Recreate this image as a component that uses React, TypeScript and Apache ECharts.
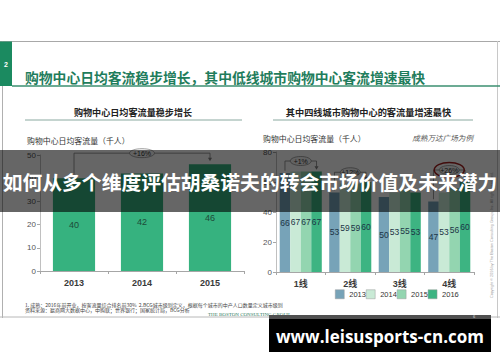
import React, { useEffect, useRef } from 'react';
import * as echarts from 'echarts';

const leftCategories = ['2013', '2014', '2015'];
const leftValues = [40, 42, 46];
const leftTicks = { min: 0, max: 50, interval: 10 };

const rightCategories = ['1线', '2线', '3线', '4线'];
const rightYears = ['2013', '2014', '2015', '2016'];
const right2013 = [66, 53, 50, 47];
const right2014 = [67, 59, 53, 53];
const right2015 = [67, 59, 55, 56];
const right2016 = [67, 60, 53, 60];
const rightTicks = { min: 0, max: 80, interval: 20 };

const leftGrowth = '+16%';
const rightGrowth = ['+1%', '+12%', '', '+26%'];

const rightColors = ['#77a3b8', '#c9ead6', '#93d5b0', '#3db482'];
const leftColor = '#36b27f';

export default function App() {
  const ref = useRef<HTMLDivElement>(null);
  useEffect(() => {
    const chart = echarts.init(ref.current!, null, { renderer: 'svg' });
    const numFont = '"Liberation Sans", Arial, "Noto Sans CJK SC", sans-serif';
    const cjk = '"Noto Sans CJK SC", sans-serif';
    const xAxisBase = {
      type: 'category',
      axisLine: { lineStyle: { color: '#a6a6a6', width: 1 } },
      axisTick: { show: true, length: 3, lineStyle: { color: '#a6a6a6' } },
      axisLabel: { color: '#3a3a3a', fontSize: 9, fontWeight: 'bold', fontFamily: numFont, margin: 7 },
    };
    const yAxisBase = {
      type: 'value',
      splitLine: { show: false },
      axisLine: { show: true, lineStyle: { color: '#c0c0c0', width: 1 } },
      axisTick: { show: true, length: 3, lineStyle: { color: '#a6a6a6' } },
      axisLabel: { color: '#555', fontSize: 8, fontFamily: numFont, margin: 4 },
    };
    const rightSeriesData = [right2013, right2014, right2015, right2016];
    chart.setOption({
      animation: false,
      backgroundColor: '#ffffff',
      grid: [
        { left: 40, right: 256, top: 155, bottom: 91 },
        { left: 276, right: 26, top: 152, bottom: 90 },
      ],
      xAxis: [
        { ...xAxisBase, gridIndex: 0, data: leftCategories },
        { ...xAxisBase, gridIndex: 1, data: rightCategories },
      ],
      yAxis: [
        { ...yAxisBase, gridIndex: 0, ...leftTicks },
        { ...yAxisBase, gridIndex: 1, ...rightTicks },
      ],
      legend: {
        data: rightYears,
        left: 335,
        top: 289.5,
        padding: 0,
        itemWidth: 9,
        itemHeight: 9,
        itemGap: 0,
        icon: 'rect',
        itemStyle: { borderColor: '#9a9a9a', borderWidth: 0.5 },
        textStyle: { fontSize: 7.5, color: '#333', fontFamily: numFont },
      },
      series: [
        {
          type: 'bar',
          name: 'left',
          xAxisIndex: 0,
          yAxisIndex: 0,
          data: leftValues,
          barWidth: '62%',
          itemStyle: { color: leftColor },
          label: { show: true, position: 'inside', color: '#1d4a38', fontSize: 9, fontFamily: numFont },
        },
        ...rightYears.map((y, i) => ({
          type: 'bar',
          name: y,
          xAxisIndex: 1,
          yAxisIndex: 1,
          data: rightSeriesData[i],
          barGap: '0%',
          barCategoryGap: '15%',
          itemStyle: { color: rightColors[i] },
          label: { show: true, position: 'inside', color: '#1c3446', fontSize: 8.5, fontFamily: numFont },
        })),
      ],
    });

    const px = (g: number, x: number, y: number) =>
      chart.convertToPixel({ gridIndex: g } as any, [x, y]) as number[];

    const gfx: any[] = [];
    const stroke = '#7f7f7f';
    const addBracket = (
      xa: number, ya: number, xb: number, yb: number, yh: number,
      text: string, rx: number, ry: number, red: boolean
    ) => {
      gfx.push({
        type: 'polyline', z: 50,
        shape: { points: [[xa, ya], [xa, yh], [xb, yh], [xb, yb - 3]] },
        style: { stroke, lineWidth: 0.8, fill: null },
      });
      gfx.push({
        type: 'polygon', z: 50,
        shape: { points: [[xb - 2, yb - 3.5], [xb + 2, yb - 3.5], [xb, yb]] },
        style: { fill: stroke },
      });
      const cx = (xa + xb) / 2;
      gfx.push({
        type: 'ellipse', z: 51,
        shape: { cx, cy: yh, rx, ry },
        style: { fill: '#f4f4f4', stroke, lineWidth: 0.7 },
      });
      if (red) {
        gfx.push({
          type: 'ellipse', z: 52,
          shape: { cx, cy: yh, rx: rx + 5, ry: ry + 3 },
          style: { fill: null, stroke: '#a3201f', lineWidth: 1.5 },
        });
      }
      gfx.push({
        type: 'text', z: 53, x: cx, y: yh,
        style: { text, fill: '#333', fontSize: 7, fontFamily: numFont, align: 'center', verticalAlign: 'middle' },
      });
    };

    // left bracket
    {
      const a = px(0, 0, 41.5);
      const b = px(0, 2, 47.3);
      const h = px(0, 0, 50.8);
      addBracket(a[0], a[1], b[0], b[1], h[1], leftGrowth, 12.5, 4.5, false);
    }
    // right brackets
    {
      const c0 = px(1, 0, 0)[0];
      const c1 = px(1, 1, 0)[0];
      const band = c1 - c0;
      const barW = (band * 0.85) / 4;
      const hv = [74, 66.5, 0, 68];
      rightGrowth.forEach((t, i) => {
        if (!t) return;
        const center = px(1, i, 0)[0];
        const xa = center - 1.5 * barW;
        const xb = center + 1.5 * barW;
        const ya = px(1, i, right2013[i] + 1.5)[1];
        const yb = px(1, i, right2016[i] + 1.2)[1];
        const yh = px(1, i, hv[i])[1];
        addBracket(xa, ya, xb, yb, yh, t, t.length > 3 ? 10 : 10.5, 4.5, i === 3);
      });
    }

    const txt = (x: number, y: number, text: string, o: any = {}) => ({
      type: 'text', z: o.z ?? 60, x, y, rotation: o.rotation ?? 0,
      style: {
        text, fill: o.fill ?? '#333', fontSize: o.size ?? 8, fontWeight: o.weight ?? 'normal',
        fontStyle: o.style ?? 'normal', fontFamily: o.family ?? cjk,
        align: o.align ?? 'left', verticalAlign: 'middle',
      },
    });
    const line = (x1: number, y1: number, x2: number, y2: number, color: string, w = 1) => ({
      type: 'line', z: 40, shape: { x1, y1, x2, y2 }, style: { stroke: color, lineWidth: w },
    });

    gfx.push(
      // slide frame
      line(0, 41.5, 500, 41.5, '#a8a8a8', 1),
      line(2.5, 41, 2.5, 318, '#b0b0b0', 1),
      line(497.5, 41, 497.5, 318, '#c8c8c8', 1),
      line(0, 317, 500, 317, '#b8b8b8', 1),
      { type: 'rect', z: 41, shape: { x: 0, y: 41.5, width: 12, height: 44.5 }, style: { fill: '#1b8a60' } },
      txt(6, 64, '2', { fill: '#fff', size: 7, weight: 'bold', align: 'center', family: numFont }),
      line(12, 86, 500, 86, '#3b8f70', 1.3),
      txt(25, 77, '购物中心日均客流稳步增长，其中低线城市购物中心客流增速最快', { fill: '#1f7d5c', size: 13.8, weight: 'bold' }),
      // left panel header
      txt(133, 111.5, '购物中心日均客流量稳步增长', { size: 9.1, weight: 'bold', fill: '#222', align: 'center' }),
      line(25, 120, 242, 120, '#8aa9a0', 1),
      txt(27, 140, '购物中心日均客流量（千人）', { size: 7.9, fill: '#333' }),
      // right panel header
      txt(368.5, 111.5, '其中四线城市购物中心的客流量增速最快', { size: 9.2, weight: 'bold', fill: '#222', align: 'center' }),
      line(273, 120, 473, 120, '#8aa9a0', 1),
      txt(263, 138, '购物中心日均客流量（千人）', { size: 7.9, fill: '#333' }),
      txt(473, 137.5, '成熟万达广场为例', { size: 7.6, fill: '#555', style: 'italic', align: 'right' }),
      // footnotes
      txt(25, 304, '1. 成熟：2016年前开业，按客流量综合排名前30%  2.BCG城市级别定义，根据每个城市的中产人口数量定义城市级别', { size: 5, fill: '#444' }),
      txt(25, 309.5, '资料来源：赢商网大数据中心，中购联；世界银行；国家统计局，BCG分析', { size: 5, fill: '#444' }),
      txt(208, 314, 'THE BOSTON CONSULTING GROUP', { size: 5, fill: '#2f7a5e', family: '"Liberation Serif", serif' }),
      txt(492, 235, 'Copyright © 2016 by The Boston Consulting Group, Inc. All rights reserved.', { size: 3.8, fill: '#9a9a9a', align: 'center', rotation: Math.PI / 2, family: numFont }),
      // overlay band
      { type: 'rect', z: 100, shape: { x: 0, y: 150, width: 500, height: 62 }, style: { fill: 'rgba(0,0,0,0.6)' } },
      txt(250, 181, '如何从多个维度评估胡桑诺夫的转会市场价值及未来潜力', { z: 101, size: 19.8, weight: 'bold', fill: '#ffffff', align: 'center' }),
      // watermark
      { type: 'rect', z: 100, shape: { x: 269, y: 315, width: 222, height: 4 }, style: { fill: '#505050' } },
      { type: 'rect', z: 100, shape: { x: 269, y: 319, width: 222, height: 33 }, style: { fill: '#000000' } },
      txt(473, 316.5, '6', { z: 101, size: 4, fill: '#ddd', family: numFont }),
      txt(380, 336, 'www.leisusports-cn.com', { z: 101, size: 17, weight: 'bold', fill: '#ffffff', align: 'center', family: '"Open Sans", "Noto Sans", sans-serif' })
    );

    chart.setOption({ graphic: gfx });
    return () => chart.dispose();
  }, []);
  return <div ref={ref} style={{ position: 'fixed', left: 0, top: 0, width: 500, height: 362, background: '#fff' }} />;
}
